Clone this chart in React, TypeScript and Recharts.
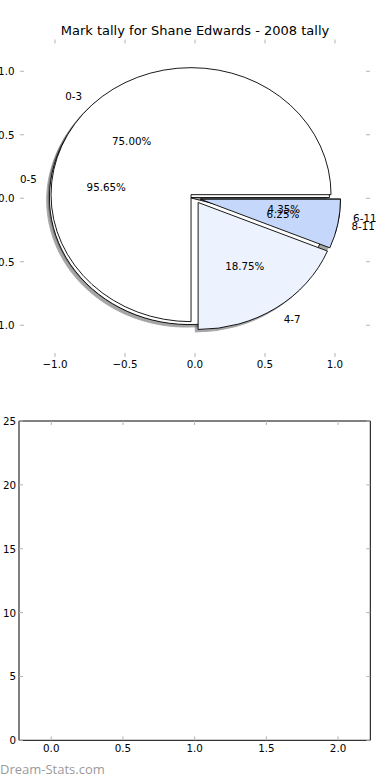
import React from 'react';
import { Cell, Pie, PieChart, Scatter, ScatterChart, XAxis, YAxis } from 'recharts';

// two tallies drawn on top of each other, as the source page does
const BINS_BY_FOUR = ['0-3', '4-7', '8-11'];
const COUNTS_BY_FOUR = [12, 3, 1];
const BINS_BY_SIX = ['0-5', '6-11'];
const COUNTS_BY_SIX = [22, 1];

const PIE_TICKS = [-1, -0.5, 0, 0.5, 1];
const BAR_X_TICKS = [0, 0.5, 1, 1.5, 2];
const BAR_Y_TICKS = [0, 5, 10, 15, 20, 25];

const FOUR_COLORS = ['#ffffff', '#ecf2fe', '#c5d8fc'];
const SIX_COLORS = ['#ffffff', '#c5d8fc'];

const FONT = '"DejaVu Sans", sans-serif';
const FONT_SIZE = 10.3;
const TICK_COLOR = '#b4b4b4';

// pie axes box in px, limits are +-1.25 on both axes
const PIE_BOX = { left: 20, right: 370, top: 39.5, bottom: 357 };
const PIE_LIM = 1.25;
const UNIT_X = (PIE_BOX.right - PIE_BOX.left) / (2 * PIE_LIM);
const UNIT_Y = (PIE_BOX.bottom - PIE_BOX.top) / (2 * PIE_LIM);
const PIE_CX = (PIE_BOX.left + PIE_BOX.right) / 2;
const PIE_CY = (PIE_BOX.top + PIE_BOX.bottom) / 2;
const EXPLODE = 0.04;
const SHADOW = 0.02;
const RAD = Math.PI / 180;

// axes of zero size are dropped, so the top / right ones get 1px
const THIN = 1;

const toRows = (names: string[], values: number[]) =>
  names.map((name, i) => ({ name, value: values[i] }));

const fourData = toRows(BINS_BY_FOUR, COUNTS_BY_FOUR);
const sixData = toRows(BINS_BY_SIX, COUNTS_BY_SIX);

const fmtAxis = (v: number) => v.toFixed(1).replace('-', '\u2212');

// axes are not square, so every wedge is an ellipse slice
function wedgePath(cx: number, cy: number, rx: number, ry: number, a0: number, a1: number) {
  const x0 = cx + rx * Math.cos(a0 * RAD);
  const y0 = cy - ry * Math.sin(a0 * RAD);
  const x1 = cx + rx * Math.cos(a1 * RAD);
  const y1 = cy - ry * Math.sin(a1 * RAD);
  const large = Math.abs(a1 - a0) > 180 ? 1 : 0;
  return `M${cx},${cy}L${x0},${y0}A${rx},${ry} 0 ${large} 0 ${x1},${y1}Z`;
}

function wedgeGeometry(props: any) {
  const { cx, cy, outerRadius, startAngle, endAngle } = props;
  const rx = outerRadius;
  const ry = (outerRadius * UNIT_Y) / UNIT_X;
  const mid = (startAngle + endAngle) / 2;
  const ox = cx + EXPLODE * rx * Math.cos(mid * RAD);
  const oy = cy - EXPLODE * ry * Math.sin(mid * RAD);
  return { ox, oy, rx, ry, startAngle, endAngle };
}

const Wedge = (props: any) => {
  const g = wedgeGeometry(props);
  return (
    <path
      d={wedgePath(g.ox, g.oy, g.rx, g.ry, g.startAngle, g.endAngle)}
      fill={props.fill}
      stroke="#000"
      strokeWidth={0.9}
    />
  );
};

const ShadowWedge = (props: any) => {
  const g = wedgeGeometry(props);
  return (
    <g opacity={0.5}>
      <path
        d={wedgePath(g.ox - SHADOW * g.rx, g.oy + SHADOW * g.ry, g.rx, g.ry, g.startAngle, g.endAngle)}
        fill="#4d4d4d"
        stroke="#4d4d4d"
        strokeWidth={0.9}
      />
    </g>
  );
};

const NoWedge = () => <g />;

const renderTallyLabel = (props: any) => {
  const { midAngle, percent } = props;
  const name = props.name ?? props.payload?.name;
  const g = wedgeGeometry(props);
  const c = Math.cos(midAngle * RAD);
  const s = Math.sin(midAngle * RAD);
  const textStyle = { fontFamily: FONT, fontSize: FONT_SIZE };
  return (
    <g>
      <text
        x={g.ox + 1.1 * g.rx * c}
        y={g.oy - 1.1 * g.ry * s}
        textAnchor={c > 0 ? 'start' : 'end'}
        dominantBaseline="central"
        fill="#000"
        style={textStyle}
      >
        {name}
      </text>
      <text
        x={g.ox + 0.6 * g.rx * c}
        y={g.oy - 0.6 * g.ry * s}
        textAnchor="middle"
        dominantBaseline="central"
        fill="#000"
        style={textStyle}
      >
        {`${(percent * 100).toFixed(2)}%`}
      </text>
    </g>
  );
};

// matplotlib style ticks: short, pointing into the axes
const makeTick = (side: 'top' | 'bottom' | 'left' | 'right', fmt?: (v: number) => string, gap = 6) =>
  (props: any) => {
    const { x, y, payload } = props;
    const len = 4;
    const style = { fontFamily: FONT, fontSize: FONT_SIZE };
    if (side === 'bottom') {
      return (
        <g>
          <line x1={x} y1={y} x2={x} y2={y - len} stroke={TICK_COLOR} />
          {fmt && (
            <text x={x} y={y + gap} textAnchor="middle" dominantBaseline="central" fill="#000" style={style}>
              {fmt(payload.value)}
            </text>
          )}
        </g>
      );
    }
    if (side === 'top') {
      return <line x1={x} y1={y} x2={x} y2={y + len} stroke={TICK_COLOR} />;
    }
    if (side === 'left') {
      return (
        <g>
          <line x1={x} y1={y} x2={x + len} y2={y} stroke={TICK_COLOR} />
          {fmt && (
            <text x={x - gap} y={y} textAnchor="end" dominantBaseline="central" fill="#000" style={style}>
              {fmt(payload.value)}
            </text>
          )}
        </g>
      );
    }
    return <line x1={x} y1={y} x2={x - len} y2={y} stroke={TICK_COLOR} />;
  };

const axisCommon = {
  type: 'number' as const,
  tickSize: 0,
  tickMargin: 0,
  tickLine: false,
  interval: 0 as const,
  allowDataOverflow: true,
};

const PieAxes = () => (
  <ScatterChart
    width={390}
    height={390}
    margin={{ top: PIE_BOX.top - THIN, right: 0, bottom: 0, left: 0 }}
  >
    <XAxis
      {...axisCommon}
      xAxisId="bottom"
      dataKey="x"
      domain={[-PIE_LIM, PIE_LIM]}
      ticks={PIE_TICKS}
      height={390 - PIE_BOX.bottom}
      axisLine={false}
      tick={makeTick('bottom', fmtAxis, 7.3)}
    />
    <XAxis
      {...axisCommon}
      xAxisId="top"
      orientation="top"
      dataKey="x"
      domain={[-PIE_LIM, PIE_LIM]}
      ticks={PIE_TICKS}
      height={THIN}
      axisLine={false}
      tick={makeTick('top')}
    />
    <YAxis
      {...axisCommon}
      yAxisId="left"
      dataKey="y"
      domain={[-PIE_LIM, PIE_LIM]}
      ticks={PIE_TICKS}
      width={PIE_BOX.left}
      axisLine={false}
      tick={makeTick('left', fmtAxis, 5.5)}
    />
    <YAxis
      {...axisCommon}
      yAxisId="right"
      orientation="right"
      dataKey="y"
      domain={[-PIE_LIM, PIE_LIM]}
      ticks={PIE_TICKS}
      width={390 - PIE_BOX.right}
      axisLine={false}
      tick={makeTick('right')}
    />
    <Scatter xAxisId="bottom" yAxisId="left" data={[]} isAnimationActive={false} />
  </ScatterChart>
);

const pieCommon = {
  dataKey: 'value',
  nameKey: 'name',
  cx: PIE_CX,
  cy: PIE_CY,
  outerRadius: UNIT_X,
  startAngle: 0,
  endAngle: 360,
  isAnimationActive: false,
  labelLine: false,
  stroke: 'none',
};

const TallyPies = () => (
  <PieChart width={390} height={390} margin={{ top: 0, right: 0, bottom: 0, left: 0 }}>
    {/* shadows sit under every wedge */}
    <Pie {...pieCommon} data={sixData} shape={ShadowWedge} />
    <Pie {...pieCommon} data={fourData} shape={ShadowWedge} />
    <Pie {...pieCommon} data={sixData} shape={Wedge}>
      {sixData.map((d, i) => (
        <Cell key={`six-${d.name}`} fill={SIX_COLORS[i % SIX_COLORS.length]} />
      ))}
    </Pie>
    <Pie {...pieCommon} data={fourData} shape={Wedge}>
      {fourData.map((d, i) => (
        <Cell key={`four-${d.name}`} fill={FOUR_COLORS[i % FOUR_COLORS.length]} />
      ))}
    </Pie>
    {/* texts above all patches */}
    <Pie {...pieCommon} data={fourData} shape={NoWedge} label={renderTallyLabel} />
    <Pie {...pieCommon} data={sixData} shape={NoWedge} label={renderTallyLabel} />
  </PieChart>
);

const BAR_BOX = { left: 19, right: 370.3, top: 421, bottom: 740.3 };

const EmptyBars = () => (
  <ScatterChart
    width={390}
    height={390}
    margin={{ top: BAR_BOX.top - 390 - THIN, right: 390 - BAR_BOX.right - THIN, bottom: 0, left: 0 }}
  >
    <XAxis
      {...axisCommon}
      xAxisId="bottom"
      dataKey="x"
      domain={[-0.225, 2.225]}
      ticks={BAR_X_TICKS}
      height={780 - BAR_BOX.bottom}
      axisLine={{ stroke: '#000' }}
      tick={makeTick('bottom', fmtAxis, 8)}
    />
    <XAxis
      {...axisCommon}
      xAxisId="top"
      orientation="top"
      dataKey="x"
      domain={[-0.225, 2.225]}
      ticks={BAR_X_TICKS}
      height={THIN}
      axisLine={{ stroke: '#000' }}
      tick={makeTick('top')}
    />
    <YAxis
      {...axisCommon}
      yAxisId="left"
      dataKey="y"
      domain={[0, 25]}
      ticks={BAR_Y_TICKS}
      width={BAR_BOX.left}
      axisLine={{ stroke: '#000' }}
      tick={makeTick('left', (v) => String(v), 3)}
    />
    <YAxis
      {...axisCommon}
      yAxisId="right"
      orientation="right"
      dataKey="y"
      domain={[0, 25]}
      ticks={BAR_Y_TICKS}
      width={THIN}
      axisLine={{ stroke: '#000' }}
      tick={makeTick('right')}
    />
    <Scatter xAxisId="bottom" yAxisId="left" data={[]} isAnimationActive={false} />
  </ScatterChart>
);

export default function App() {
  return (
    <div
      style={{
        position: 'absolute',
        left: 0,
        top: 0,
        width: 390,
        height: 780,
        background: '#fff',
        overflow: 'hidden',
        fontFamily: FONT,
      }}
    >
      <div
        style={{
          position: 'absolute',
          left: 0,
          top: 23.5,
          width: 390,
          textAlign: 'center',
          fontSize: 13,
          lineHeight: '13px',
          color: '#000',
        }}
      >
        Mark tally for Shane Edwards - 2008 tally
      </div>
      <div style={{ position: 'absolute', left: 0, top: 0 }}>
        <PieAxes />
      </div>
      <div style={{ position: 'absolute', left: 0, top: 0 }}>
        <TallyPies />
      </div>
      <div style={{ position: 'absolute', left: 0, top: 390 }}>
        <EmptyBars />
      </div>
      <div
        style={{
          position: 'absolute',
          left: 0,
          top: 762,
          fontFamily: '"Open Sans", sans-serif',
          fontSize: 13,
          lineHeight: '14px',
          color: '#9a9a9a',
        }}
      >
        Dream-Stats.com
      </div>
    </div>
  );
}
